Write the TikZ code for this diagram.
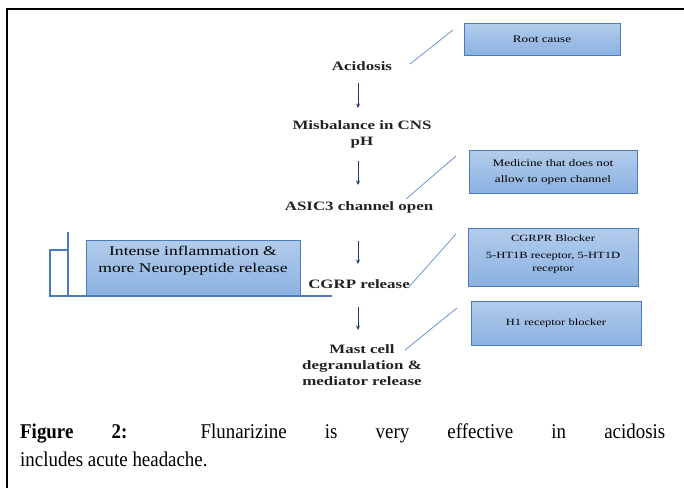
\documentclass[tikz,border=0pt]{standalone}
\usepackage{fontspec}
\setmainfont{Liberation Serif}
\newfontfamily\flowfont[FakeStretch=1.32]{Liberation Serif}
\newfontfamily\capfont[FakeStretch=0.9]{Liberation Serif}
\usetikzlibrary{arrows.meta}
\definecolor{boxtop}{HTML}{B3CCEB}
\definecolor{boxbot}{HTML}{8AB1E1}
\definecolor{boxline}{HTML}{4A7CBC}
\definecolor{conn}{HTML}{5B8BC9}
\definecolor{arrowc}{HTML}{1F3B73}
\definecolor{flowtext}{HTML}{222222}
\tikzset{
  flow/.style={font=\flowfont\bfseries\fontsize{12.8}{16}\selectfont, align=center, inner sep=0pt, text=flowtext},
  bluebox/.style={draw=boxline, line width=0.9pt, top color=boxtop, bottom color=boxbot, align=center, inner sep=2pt, text=black},
  flowarrow/.style={draw=arrowc, line width=0.8pt, -{Stealth[length=4.5pt,width=4pt]}},
  connline/.style={draw=conn, line width=0.7pt},
  brack/.style={draw=boxline, line width=1.1pt},
}
\begin{document}
\begin{tikzpicture}[x=1pt,y=-1pt]
\useasboundingbox (0,0) rectangle (684,488);
% frame
\draw[line width=2pt] (7,488) -- (7,9) -- (684,9);
\coordinate (colx) at (358,0);
% flow texts
\node[flow] (acid) at (362,66) {Acidosis};
\node[flow] (misb) at (362,134) {Misbalance in CNS\\pH};
\node[flow] (asic) at (359,207) {ASIC3 channel open};
\node[flow] (cgrp) at (359,284) {CGRP release};
\node[flow] (mast) at (362,365) {Mast cell\\degranulation \&\\mediator release};
% arrows
\draw[flowarrow, shorten <=17pt, shorten >=26pt] (acid -| colx) -- (misb -| colx);
\draw[flowarrow, shorten <=27pt, shorten >=22pt] (misb -| colx) -- (asic -| colx);
\draw[flowarrow, shorten <=34pt, shorten >=20pt] (asic -| colx) -- (cgrp -| colx);
\draw[flowarrow, shorten <=23pt, shorten >=35pt] (cgrp -| colx) -- (mast -| colx);
% boxes
\node[bluebox, minimum width=156pt, minimum height=32pt, font=\flowfont\fontsize{10}{12}\selectfont] (root) at (542,39) {Root cause};
\node[bluebox, minimum width=168pt, minimum height=43pt, font=\flowfont\fontsize{10}{16}\selectfont] (med) at (553,172) {Medicine that does not\\allow to open channel};
\node[bluebox, minimum width=170pt, minimum height=58pt, font=\flowfont\fontsize{9.5}{13}\selectfont] (cgrpr) at (553,257) {CGRPR Blocker\\[4pt]5-HT1B receptor, 5-HT1D\\receptor\\[-6pt]\mbox{}};
\node[bluebox, minimum width=170pt, minimum height=44pt, font=\flowfont\fontsize{9.5}{12}\selectfont] (h1) at (556,323) {H1 receptor blocker};
\node[bluebox, minimum width=214pt, minimum height=56pt, font=\flowfont\fontsize{13.3}{17}\selectfont] (lbox) at (193,268) {Intense inflammation \&\\more Neuropeptide release\\[0pt]\mbox{}};
% connector lines
\coordinate (l1a) at (410,64);  \coordinate (l1b) at (453,30);
\coordinate (l2a) at (406,199); \coordinate (l2b) at (456,156);
\coordinate (l3a) at (408,288); \coordinate (l3b) at (456,234);
\coordinate (l4a) at (405,350); \coordinate (l4b) at (457,308);
\draw[connline] (l1a) -- (l1b);
\draw[connline] (l2a) -- (l2b);
\draw[connline] (l3a) -- (l3b);
\draw[connline] (l4a) -- (l4b);
% bracket (feedback loop)
\coordinate (bk) at (68,296);
\draw[brack] (68,232) -- (bk);
\draw[brack] (50,296) rectangle (68,250);
\draw[brack] (50,296) -- (332,296);
% caption
\node[anchor=north west, text width=645pt, align=justify, inner sep=0pt, font=\capfont\fontsize{21}{27.5}\selectfont] (cap) at (20,424) {\textbf{Figure 2:} Flunarizine is very effective in acidosis\linebreak includes acute headache.};
\end{tikzpicture}
\end{document}
